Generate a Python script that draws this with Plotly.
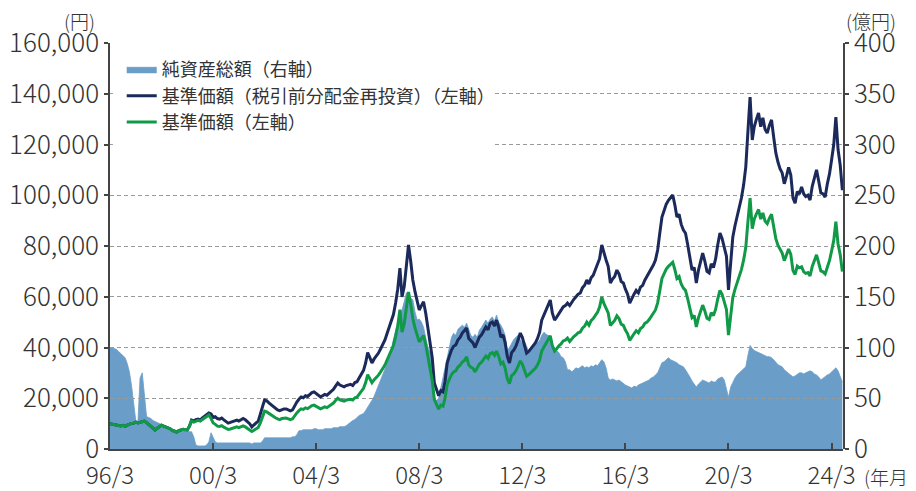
import plotly.graph_objects as go

# ---------------- data ----------------
# Monthly net assets, 1996/3 .. 2024/8 (100 million yen, right axis)
asset_values = [
    100, 100, 99, 98, 96, 94, 92, 90, 84, 76,                   # 1996 (Mar-)
    62, 45, 28, 27, 70, 75, 55, 32, 31, 30, 28, 27,             # 1997
    26, 25, 24, 23, 22, 21, 20, 19, 19, 18, 18, 18,             # 1998
    18, 17, 17, 17, 17, 12, 4, 3, 3, 3, 3, 4,                   # 1999
    7, 16, 11, 7, 6, 6, 6, 6, 6, 6, 6, 6,                       # 2000
    6, 6, 6, 6, 6, 6, 6, 6, 5, 6, 6, 6,                         # 2001
    6, 8, 11, 11, 11, 11, 11, 11, 11, 11, 11, 11,               # 2002
    11, 11, 11, 12, 12, 14, 18, 18, 19, 19, 19, 19,             # 2003
    19, 20, 20, 19, 19, 19, 20, 20, 20, 20, 21, 21,             # 2004
    21, 22, 22, 22, 23, 25, 27, 28, 29, 31, 33, 34,             # 2005
    35, 38, 41, 44, 48, 52, 57, 62, 68, 73, 78, 84,             # 2006
    91, 98, 108, 118, 125, 132, 137, 145, 154, 150, 148, 147,   # 2007
    135, 127, 128, 125, 120, 110, 100, 95, 80, 50, 48, 50,      # 2008
    60, 71, 78, 90, 97, 110, 114, 112, 118, 120, 122, 120,      # 2009
    124, 118, 112, 110, 113, 110, 117, 120, 123, 127, 124, 128, # 2010
    130, 126, 132, 125, 122, 118, 112, 97, 100, 104, 108, 110,  # 2011
    112, 108, 104, 106, 100, 96, 98, 100, 103, 105, 107, 112,   # 2012
    115, 113, 112, 110, 104, 97, 97, 95, 91, 90, 86, 78,        # 2013
    78, 76, 78, 80, 79, 81, 82, 80, 81, 80, 82, 81,             # 2014
    83, 82, 85, 88, 86, 80, 70, 68, 69, 68, 67, 68,             # 2015
    66, 64, 63, 62, 61, 60, 62, 61, 63, 64, 65, 66,             # 2016
    67, 68, 70, 71, 73, 75, 80, 85, 86, 88, 90, 88,             # 2017
    87, 86, 85, 83, 82, 81, 78, 75, 71, 67, 64, 61,             # 2018
    64, 66, 68, 67, 66, 65, 67, 66, 66, 69, 70, 71,             # 2019
    68, 60, 51, 61, 66, 70, 73, 75, 77, 79, 81, 92,             # 2020
    102, 99, 97, 96, 95, 94, 93, 92, 91, 91, 90, 88,            # 2021
    85, 83, 82, 81, 78, 76, 74, 73, 71, 72, 74, 75,             # 2022
    75, 74, 75, 76, 77, 76, 74, 73, 71, 68, 70, 71,             # 2023
    73, 74, 76, 78, 80, 77, 72, 66,                             # 2024 (-Aug)
]

# Monthly NAV, 1996/3 .. 2024/8 (yen, left axis)
nav_reinvest = [
    10000, 9800, 9700, 9500, 9300, 9100, 9300, 8900, 9400, 9900,                      # 1996 (Mar-)
    10100, 10200, 10600, 10300, 10500, 10700, 11000, 10400, 9700, 9000, 8100, 7500,   # 1997
    8200, 8900, 9400, 9000, 8700, 8500, 8000, 7300, 6900, 6700, 7200, 7400,           # 1998
    7800, 7600, 7500, 9000, 11400, 11000, 11600, 11800, 11500, 12200, 12900, 13600,   # 1999
    14200, 13800, 12400, 12700, 12000, 11800, 12200, 11500, 10800, 10200, 10500, 10800,  # 2000
    11200, 11400, 11000, 11600, 12000, 11500, 10800, 10000, 8700, 9600, 10300, 11000,    # 2001
    13500, 16800, 19300, 19000, 18200, 17500, 16800, 16000, 15400, 15100, 15600, 15800,  # 2002
    15800, 15500, 15000, 15400, 17200, 18500, 19600, 20500, 20200, 21000, 20700, 21400,  # 2003
    22200, 22500, 22000, 21200, 20500, 21000, 21500, 21200, 22000, 22500, 23500, 24800,  # 2004
    26000, 25200, 24800, 24500, 25000, 25400, 25500, 25000, 26200, 26500, 28000, 29500,  # 2005
    31000, 34000, 38000, 36000, 33900, 35500, 36500, 37800, 39500, 41000, 43000, 45500,  # 2006
    48100, 51000, 53000, 57500, 63000, 71300, 59900, 64000, 72000, 80400, 74000, 66600,  # 2007
    62000, 58000, 54800, 56500, 58000, 53500, 48000, 43000, 36000, 26000, 23300, 21000,  # 2008
    23000, 22500, 26500, 33900, 36500, 39000, 40500, 41000, 43000, 44000, 45700, 46500,  # 2009
    47700, 43500, 42500, 41800, 40000, 42500, 44100, 45000, 46500, 48100, 47000, 49500,  # 2010
    50000, 48500, 50800, 48000, 44100, 45000, 42000, 36500, 33900, 38000, 39000, 40500,  # 2011
    43000, 45700, 44000, 41000, 37800, 38500, 39500, 40500, 41800, 43500, 46000, 50800,  # 2012
    53000, 55000, 56500, 58700, 53500, 50800, 52000, 53500, 54500, 56000, 56500, 57500,  # 2013
    56500, 58000, 59000, 60000, 61000, 61500, 63500, 64500, 66600, 65000, 67500, 68500,  # 2014
    70500, 72500, 75000, 80400, 77000, 74500, 72000, 65400, 67000, 68000, 70500, 69000,  # 2015
    66000, 65400, 63000, 61000, 57500, 59500, 61000, 62500, 61500, 63800, 64500, 66500,  # 2016
    68000, 69400, 71000, 72500, 74500, 78400, 85000, 91400, 94000, 96500, 98000, 99000,  # 2017
    100100, 96000, 91400, 92500, 88500, 86300, 85000, 80500, 75700, 70500, 71500, 65400,  # 2018
    70500, 73500, 77200, 74000, 70000, 69400, 73000, 71500, 75000, 80500, 85100, 83000,   # 2019
    79000, 76000, 62700, 72000, 83500, 88000, 91500, 95400, 99000, 104000, 111100, 125000,  # 2020
    138700, 121800, 127000, 130000, 132400, 127000, 130500, 126000, 124500, 127500, 129700, 123000,  # 2021
    116700, 113000, 110500, 108800, 104500, 107500, 111000, 108000, 99000, 96900, 101500, 100500,  # 2022
    103300, 100500, 99500, 100000, 98100, 103500, 106500, 110000, 105500, 101000, 100500, 99300,  # 2023
    104500, 108500, 113900, 120000, 130800, 118000, 112000, 102000,                        # 2024 (-Aug)
]
nav_price = [
    10000, 9800, 9700, 9500, 9300, 9100, 9300, 8900, 9400, 9900,                      # 1996 (Mar-)
    10100, 10200, 10600, 10300, 10500, 10700, 11000, 10400, 9700, 9000, 8100, 7500,   # 1997
    8200, 8900, 9400, 9000, 8700, 8500, 8000, 7300, 6900, 6700, 7200, 7400,           # 1998
    7800, 7600, 7500, 8900, 11000, 10600, 11100, 11300, 11000, 11600, 12200, 12900,   # 1999
    13400, 12000, 10300, 9700, 9000, 8900, 9200, 8600, 8100, 7700, 7900, 8100,        # 2000
    8500, 8700, 8400, 8800, 9100, 8700, 8200, 7600, 6900, 7400, 7900, 8500,          # 2001
    10400, 12900, 14900, 14600, 14000, 13500, 12900, 12300, 11900, 11600, 12000, 12200,  # 2002
    12200, 11900, 11600, 11900, 13200, 14200, 15100, 15800, 15600, 16200, 15900, 16500,  # 2003
    17100, 17300, 16900, 16300, 15800, 16200, 16600, 16300, 16900, 17300, 18100, 19100,  # 2004
    20000, 19400, 19100, 18900, 19300, 19600, 19600, 19300, 20200, 20400, 21600, 22700,  # 2005
    23900, 26200, 29300, 27700, 26100, 27300, 28100, 29100, 30400, 31600, 33100, 35000,  # 2006
    37000, 39300, 40800, 44300, 48500, 54900, 46100, 49300, 55400, 61900, 57000, 51300,  # 2007
    47700, 44700, 42200, 43500, 44700, 41200, 36500, 32700, 27000, 19500, 17500, 15700,  # 2008
    17300, 16900, 19900, 25400, 27400, 29300, 30400, 30800, 32300, 33000, 34300, 34900,  # 2009
    36300, 33100, 32300, 31800, 30400, 32300, 33500, 34200, 35300, 36600, 35700, 37600,  # 2010
    38000, 36900, 38600, 36500, 33500, 34200, 31900, 27700, 25800, 28900, 29600, 30800,  # 2011
    32700, 34700, 33400, 31200, 28700, 29300, 30000, 30800, 31800, 33100, 35000, 38600,  # 2012
    40300, 41800, 42900, 44600, 40700, 38600, 39500, 40700, 41400, 42600, 42900, 43700,  # 2013
    42400, 43500, 44300, 45000, 45800, 46100, 47600, 48400, 50000, 48800, 50600, 51400,  # 2014
    52500, 54000, 55900, 59900, 57400, 55500, 53600, 48700, 49900, 50700, 52500, 51400,  # 2015
    49200, 48700, 46900, 45400, 42800, 44300, 45400, 46600, 45800, 47500, 48100, 49500,  # 2016
    50000, 51000, 52200, 53300, 54800, 57600, 62500, 67200, 69100, 70900, 72000, 72800,  # 2017
    73600, 70600, 67200, 68000, 65000, 63400, 62500, 59200, 55600, 51800, 52600, 48100,  # 2018
    51800, 54000, 56700, 54400, 51500, 51000, 53700, 52600, 55100, 59200, 62500, 61000,  # 2019
    57500, 55000, 44900, 51500, 59700, 62900, 65400, 68200, 70800, 74400, 79400, 89400,  # 2020
    98900, 86800, 90600, 92700, 94400, 90600, 93000, 89800, 88800, 90900, 92500, 87700,  # 2021
    82900, 80200, 78500, 77200, 74200, 76300, 78800, 76700, 70300, 68800, 72100, 71400,  # 2022
    71800, 69800, 69200, 69500, 68200, 71900, 74000, 76500, 73300, 70200, 69800, 69000,  # 2023
    71600, 74300, 78000, 82200, 89600, 80800, 76700, 69900,                              # 2024 (-Aug)
]
month_dates = [f"{y}-{m:02d}-01" for y in range(1996, 2025) for m in range(1, 13)
               if (1996, 3) <= (y, m) <= (2024, 8)]

tick_dates = ["1996-03-01", "2000-03-01", "2004-03-01", "2008-03-01",
              "2012-03-01", "2016-03-01", "2020-03-01", "2024-03-01"]
tick_labels = ["96/3", "00/3", "04/3", "08/3", "12/3", "16/3", "20/3", "24/3"]

series_names = ["純資産総額（右軸）", "基準価額（税引前分配金再投資）（左軸）", "基準価額（左軸）"]

# ---------------- figure ----------------
FONT = "Noto Sans CJK JP"
TXT = "#333333"
AXC = "#444444"
AREA = "#6a9ec9"
NAVY = "#1b2a5a"
GREEN = "#109a48"

fig = go.Figure()
fig.add_trace(go.Scatter(
    x=month_dates, y=asset_values, xaxis="x", yaxis="y",
    mode="lines", fill="tozeroy", fillcolor=AREA,
    line=dict(color=AREA, width=0.8), name=series_names[0]))
fig.add_trace(go.Scatter(
    x=month_dates, y=nav_reinvest, xaxis="x2", yaxis="y2",
    mode="lines", line=dict(color=NAVY, width=3), name=series_names[1]))
fig.add_trace(go.Scatter(
    x=month_dates, y=nav_price, xaxis="x2", yaxis="y2",
    mode="lines", line=dict(color=GREEN, width=3), name=series_names[2]))

xr = ["1996-03-01", "2024-08-10"]
tf = dict(size=26, family=FONT, color=TXT, weight=300)
uf = dict(size=19, family=FONT, color=TXT, weight=300)

fig.update_layout(
    width=908, height=483,
    margin=dict(l=102, r=73, t=35, b=42, autoexpand=False),
    paper_bgcolor="white", plot_bgcolor="rgba(0,0,0,0)",
    font=dict(family=FONT, color=TXT),
    showlegend=True,
    legend=dict(x=0.016, y=0.98, xanchor="left", yanchor="top",
                bgcolor="rgba(0,0,0,0)", font=dict(size=18, family=FONT, color=TXT),
                tracegroupgap=0, itemwidth=30),
    xaxis=dict(type="date", range=xr, anchor="y", domain=[0, 1],
               visible=False, showgrid=False, automargin=False),
    yaxis=dict(range=[0, 400], side="right", anchor="x", dtick=50,
               showgrid=False, zeroline=False, automargin=False,
               showline=True, linecolor=AXC, linewidth=1.5,
               ticks="outside", ticklen=4, tickwidth=1.5, tickcolor=AXC,
               tickfont=tf),
    xaxis2=dict(type="date", range=xr, anchor="y2", domain=[0, 1],
                tickvals=tick_dates, ticktext=tick_labels, automargin=False,
                showgrid=False, zeroline=False, ticklabelstandoff=4,
                showline=True, linecolor=AXC, linewidth=1.5,
                ticks="inside", ticklen=6, tickwidth=1.5, tickcolor=AXC,
                tickfont=dict(size=24, family=FONT, color=TXT, weight=300)),
    yaxis2=dict(range=[0, 160000], side="left", anchor="x2", dtick=20000,
                tickformat=",", showgrid=True, gridcolor="#9a9a9a",
                griddash="4px,3px", gridwidth=1, zeroline=False, automargin=False,
                showline=True, linecolor=AXC, linewidth=1.5,
                ticks="outside", ticklen=4, tickwidth=1.5, tickcolor=AXC,
                tickfont=tf),
    shapes=[dict(type="rect", xref="paper", yref="paper",
                 x0=0.004, x1=0.522, y0=0.736, y1=0.978,
                 fillcolor="white", line=dict(width=0), layer="above")],
    annotations=[
        dict(text="(円)", xref="paper", yref="paper", x=-0.041, y=1.055,
             xanchor="center", yanchor="middle", showarrow=False, font=uf),
        dict(text="(億円)", xref="paper", yref="paper", x=1.038, y=1.055,
             xanchor="center", yanchor="middle", showarrow=False, font=uf),
        dict(text="(年月)", xref="paper", yref="paper", x=1.063, y=-0.068,
             xanchor="center", yanchor="middle", showarrow=False, font=uf),
    ],
)

fig.write_html("out.html")
